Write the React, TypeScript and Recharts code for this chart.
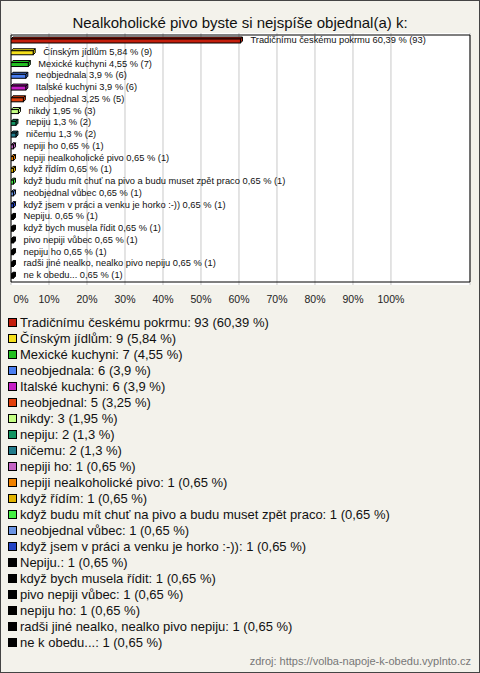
import React from 'react';
import { BarChart, Bar, XAxis, YAxis, CartesianGrid, LabelList, ReferenceArea } from 'recharts';

const categories = [
  'Tradičnímu českému pokrmu',
  'Čínským jídlům',
  'Mexické kuchyni',
  'neobjednala',
  'Italské kuchyni',
  'neobjednal',
  'nikdy',
  'nepiju',
  'ničemu',
  'nepiji ho',
  'nepiji nealkoholické pivo',
  'když řídím',
  'když budu mít chuť na pivo a budu muset zpět praco',
  'neobjednal vůbec',
  'když jsem v práci a venku je horko :-))',
  'Nepiju.',
  'když bych musela řídit',
  'pivo nepiji vůbec',
  'nepiju ho',
  'radši jiné nealko, nealko pivo nepiju',
  'ne k obedu...',
];

const counts = [93, 9, 7, 6, 6, 5, 3, 2, 2, 1, 1, 1, 1, 1, 1, 1, 1, 1, 1, 1, 1];

const percents = [60.39, 5.84, 4.55, 3.9, 3.9, 3.25, 1.95, 1.3, 1.3, 0.65, 0.65, 0.65, 0.65, 0.65, 0.65, 0.65, 0.65, 0.65, 0.65, 0.65, 0.65];

const colors = [
  '#c41e0c', '#f5e01c', '#22c022', '#4a7ef0', '#c620c6', '#e2400c', '#c4ff84',
  '#129462', '#207a8a', '#c464c4', '#f08200', '#e2b400', '#44ee44', '#6a94e4',
  '#2444c4', '#000000', '#000000', '#000000', '#000000', '#000000', '#000000',
];

const xTicks = [0, 10, 20, 30, 40, 50, 60, 70, 80, 90, 100];

const fmt = (v: number) => String(v).replace('.', ',');

const data = categories.map((name, i) => ({
  name,
  value: percents[i],
  count: counts[i],
  color: colors[i],
}));

const FONT = '"Liberation Sans", Arial, sans-serif';

function Bar3D(props: any) {
  const { x, y, width, height, payload } = props;
  const d = 2;
  const w = Math.max(width, 1);
  const stroke = '#000';
  const fill = payload.color;
  return (
    <g>
      <polygon
        points={`${x},${y} ${x + d},${y - d} ${x + w + d},${y - d} ${x + w},${y}`}
        fill={fill}
        stroke={stroke}
        strokeWidth={1}
      />
      <polygon
        points={`${x + w},${y} ${x + w + d},${y - d} ${x + w + d},${y + height - d} ${x + w},${y + height}`}
        fill={fill}
        stroke={stroke}
        strokeWidth={1}
      />
      <rect x={x} y={y} width={w} height={height} fill={fill} stroke={stroke} strokeWidth={1} />
    </g>
  );
}

function BarLabel(props: any) {
  const { x, y, width, height, index } = props;
  return (
    <text
      x={x + width + 10}
      y={y + height / 2 - 1}
      dominantBaseline="central"
      fontSize={9.3}
      fontFamily={FONT}
      fill="#111"
    >
      {`${categories[index]} ${fmt(percents[index])} % (${counts[index]})`}
    </text>
  );
}

function XTick(props: any) {
  const { x, y, payload } = props;
  const shift = payload.value === 0 ? 10 : 0;
  return (
    <text x={x + shift} y={y + 10} textAnchor="middle" fontSize={10.5} fontFamily={FONT} fill="#222">
      {`${payload.value}%`}
    </text>
  );
}

export default function App() {
  return (
    <div
      style={{
        position: 'absolute',
        left: 0,
        top: 0,
        width: 478,
        height: 671,
        border: '1px solid #444',
        background: '#f3f2eb',
        fontFamily: FONT,
        overflow: 'hidden',
      }}
    >
      <div
        style={{
          position: 'absolute',
          top: 13,
          left: 0,
          width: 478,
          textAlign: 'center',
          fontSize: 15,
          color: '#111',
        }}
      >
        Nealkoholické pivo byste si nejspíše objednal(a) k:
      </div>

      <div style={{ position: 'absolute', left: -1, top: -1 }}>
        <BarChart
          width={480}
          height={312}
          data={data}
          layout="vertical"
          margin={{ top: 33, right: 10, left: 11, bottom: 7 }}
          barCategoryGap={0}
        >
          <CartesianGrid horizontal={false} vertical stroke="#c8c8c8" fill="#ffffff" />
          <XAxis
            type="number"
            domain={[0, 120.8]}
            ticks={xTicks}
            axisLine={false}
            tickLine={false}
            height={20}
            tick={<XTick />}
            interval={0}
            allowDataOverflow
          />
          <YAxis type="category" dataKey="name" hide width={0} padding={{ top: 2, bottom: 3 }} />
          <ReferenceArea x1={0} x2={120.8} fill="none" stroke="#000" strokeWidth={1} ifOverflow="visible" />
          <Bar dataKey="value" barSize={4} shape={<Bar3D />} isAnimationActive={false}>
            <LabelList dataKey="value" content={<BarLabel />} />
          </Bar>
        </BarChart>
      </div>

      <div style={{ position: 'absolute', left: 7, top: 313 }}>
        {data.map((d, i) => (
          <div
            key={d.name}
            style={{ height: 16, display: 'flex', alignItems: 'center', fontSize: 13, color: '#111', whiteSpace: 'nowrap' }}
          >
            <span
              style={{
                display: 'inline-block',
                width: 7,
                height: 7,
                background: d.color,
                border: '1px solid #000',
                marginRight: 3,
              }}
            />
            {`${d.name}: ${d.count} (${fmt(d.value)} %)`}
          </div>
        ))}
      </div>

      <div
        style={{
          position: 'absolute',
          right: 8,
          top: 654,
          fontSize: 11,
          color: '#777',
        }}
      >
        zdroj: https://volba-napoje-k-obedu.vyplnto.cz
      </div>
    </div>
  );
}
